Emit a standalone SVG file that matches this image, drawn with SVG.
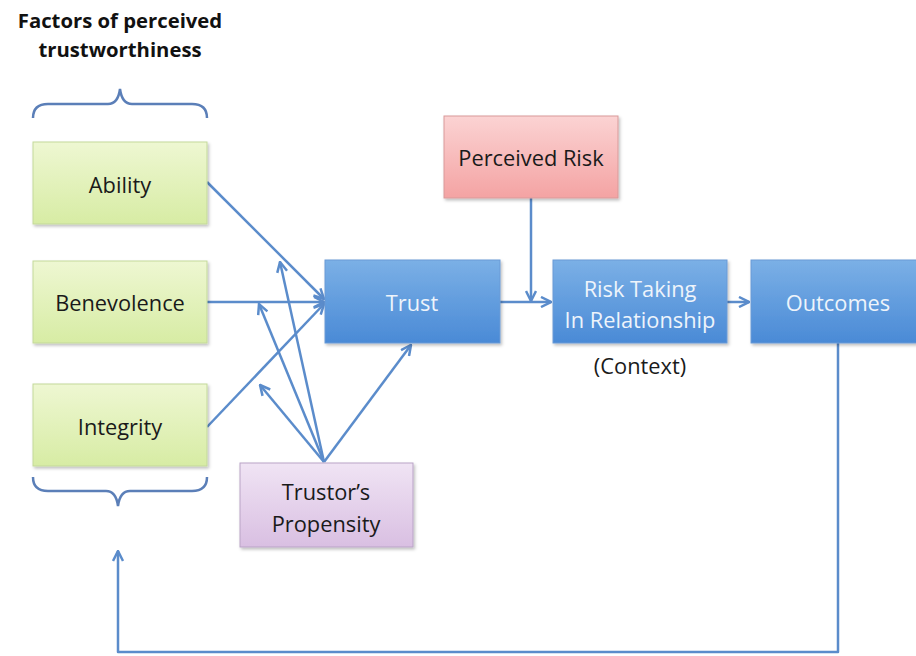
<svg xmlns="http://www.w3.org/2000/svg" width="916" height="656" viewBox="0 0 916 656">
<style>
.t{font-family:"Open Sans","Liberation Sans",Arial,sans-serif;font-size:21.8px;text-anchor:middle;fill:#1a1a1a}
.w{fill:#eef4fb}
.h{font-family:"Open Sans","Liberation Sans",Arial,sans-serif;font-size:20.3px;font-weight:bold;text-anchor:middle;fill:#111}
.c{fill:none;stroke:#5b8ccb;stroke-width:2.5;stroke-linejoin:round}
.b{fill:none;stroke:#5b7fb8;stroke-width:2.5}
.g{fill:url(#gg);stroke:#c3d99a;stroke-width:1}
.bl{fill:url(#gb);stroke:#6a9ad6;stroke-width:1}
.r{fill:url(#gr);stroke:#d99a9a;stroke-width:1}
.p{fill:url(#gp);stroke:#b9a3c6;stroke-width:1}
</style>
<defs>
<linearGradient id="gg" x1="0" y1="0" x2="0" y2="1"><stop offset="0" stop-color="#eef7d2"/><stop offset="1" stop-color="#d7eca4"/></linearGradient>
<linearGradient id="gb" x1="0" y1="0" x2="0" y2="1"><stop offset="0" stop-color="#7bb0e6"/><stop offset="1" stop-color="#4a8ad6"/></linearGradient>
<linearGradient id="gr" x1="0" y1="0" x2="0" y2="1"><stop offset="0" stop-color="#fbd3d3"/><stop offset="1" stop-color="#f4a3a3"/></linearGradient>
<linearGradient id="gp" x1="0" y1="0" x2="0" y2="1"><stop offset="0" stop-color="#f0e4f4"/><stop offset="1" stop-color="#d9bfe2"/></linearGradient>
<marker id="a" viewBox="0 0 10 10" refX="9" refY="5" markerWidth="5" markerHeight="5" orient="auto" markerUnits="strokeWidth"><path d="M1,1 L9,5 L1,9" fill="none" stroke="#5b8ccb" stroke-width="2"/></marker>
<filter id="s" x="-10%" y="-10%" width="130%" height="130%"><feDropShadow dx="1.5" dy="2" stdDeviation="1.5" flood-color="#000" flood-opacity="0.25"/></filter>
</defs>
<rect width="916" height="656" fill="#fff"/>
<g id="title">
<text class="h" x="120" y="28">Factors of perceived</text>
<text class="h" x="120" y="57">trustworthiness</text>
</g>
<g id="braces">
<path class="b" d="M33,118 Q33,104 48,104 L108,104 Q118,104 120,89 Q122,104 132,104 L192,104 Q207,104 207,118"/>
<path class="b" d="M33,477 Q33,491 48,491 L106,491 Q116,491 118,506 Q120,491 130,491 L192,491 Q207,491 207,477"/>
</g>
<g id="connectors">
<line class="c" x1="207" y1="182" x2="324" y2="299" marker-end="url(#a)"/>
<line class="c" x1="207" y1="302" x2="324" y2="302" marker-end="url(#a)"/>
<line class="c" x1="207" y1="427" x2="324" y2="304" marker-end="url(#a)"/>
<line class="c" x1="324" y1="462" x2="411" y2="345" marker-end="url(#a)"/>
<line class="c" x1="324" y1="462" x2="280" y2="262" marker-end="url(#a)"/>
<line class="c" x1="324" y1="462" x2="259" y2="304" marker-end="url(#a)"/>
<line class="c" x1="324" y1="462" x2="260" y2="385" marker-end="url(#a)"/>
<line class="c" x1="500" y1="302" x2="551" y2="302" marker-end="url(#a)"/>
<line class="c" x1="531" y1="198" x2="531" y2="301" marker-end="url(#a)"/>
<line class="c" x1="727" y1="302" x2="749" y2="302" marker-end="url(#a)"/>
<polyline class="c" points="838,343 838,652 118,652 118,551" marker-end="url(#a)"/>
</g>
<g id="ability"><rect class="g" x="33" y="142" width="174" height="82" filter="url(#s)"/><text class="t" x="120" y="193">Ability</text></g>
<g id="benevolence"><rect class="g" x="33" y="261" width="174" height="82" filter="url(#s)"/><text class="t" x="120" y="311">Benevolence</text></g>
<g id="integrity"><rect class="g" x="33" y="384" width="174" height="82" filter="url(#s)"/><text class="t" x="120" y="435">Integrity</text></g>
<g id="trust"><rect class="bl" x="325" y="260" width="175" height="83" filter="url(#s)"/><text class="t w" x="412" y="311">Trust</text></g>
<g id="perceived-risk"><rect class="r" x="444" y="116" width="174" height="82" filter="url(#s)"/><text class="t" x="531" y="166">Perceived Risk</text></g>
<g id="risk-taking"><rect class="bl" x="553" y="260" width="174" height="83" filter="url(#s)"/><text class="t w" x="640" y="297">Risk Taking</text><text class="t w" x="640" y="328">In Relationship</text></g>
<g id="context"><text class="t" x="640" y="374">(Context)</text></g>
<g id="outcomes"><rect class="bl" x="751" y="260" width="175" height="83" filter="url(#s)"/><text class="t w" x="838" y="311">Outcomes</text></g>
<g id="propensity"><rect class="p" x="240" y="463" width="173" height="84" filter="url(#s)"/><text class="t" x="326" y="500">Trustor’s</text><text class="t" x="326" y="532">Propensity</text></g>
</svg>
